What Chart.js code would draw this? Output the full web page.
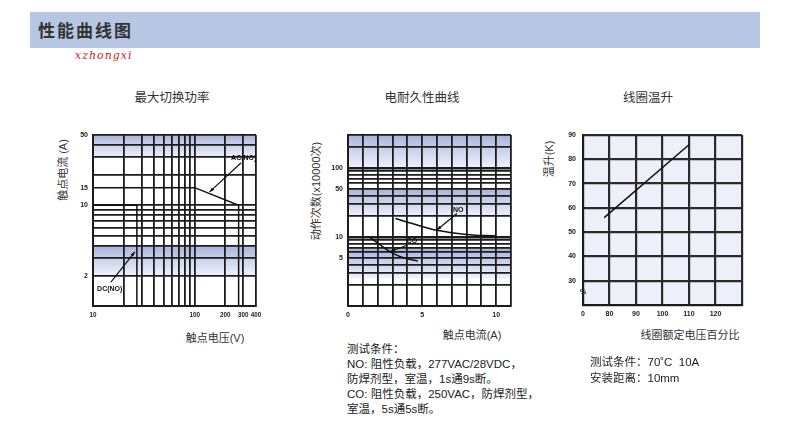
<!DOCTYPE html>
<html>
<head>
<meta charset="utf-8">
<script src="https://cdn.jsdelivr.net/npm/chart.js@4.4.1/dist/chart.umd.min.js"></script>
<style>
  body { margin: 0; width: 800px; height: 431px; background: #fff; position: relative; overflow: hidden;
         font-family: "Liberation Sans", "Noto Sans CJK SC", sans-serif; color: #333; }
  .abs { position: absolute; white-space: nowrap; line-height: 1; }
  .mid { transform: translate(-50%, -50%); }
  .rot { transform: translate(-50%, -50%) rotate(-90deg); }
  #bar { position: absolute; left: 30px; top: 12px; width: 730px; height: 36px; background: #b7c6e2; }
  #bar span { position: absolute; left: 8px; top: 9px; font-size: 17px; font-weight: bold; letter-spacing: 2px;
              line-height: 1; color: #333; font-family: "Noto Sans CJK SC", sans-serif; }
  .title { font-size: 12.5px; color: #333; }
  .axis { font-size: 11px; color: #333; }
  .notes { font-size: 11.5px; line-height: 15px; color: #222; }
  canvas { position: absolute; }
</style>
</head>
<body>
<div id="bar"><span>性能曲线图</span></div>
<div class="abs" style="left:75px; top:49px; color:#d21a1a; font: italic 11px 'DejaVu Serif'; letter-spacing:1px;">xzhongxi</div>

<div class="abs mid title" style="left:172px; top:98px;">最大切换功率</div>
<div class="abs mid title" style="left:422px; top:98px;">电耐久性曲线</div>
<div class="abs mid title" style="left:648px; top:98px;">线圈温升</div>

<div class="abs rot axis" style="left:63px; top:170px;">触点电流 (A)</div>
<div class="abs rot axis" style="left:316px; top:191px;">动作次数(x10000次)</div>
<div class="abs rot axis" style="left:549px; top:159px;">温升(K)</div>

<div class="abs mid axis" style="left:215px; top:338px;">触点电压(V)</div>
<div class="abs mid axis" style="left:472px; top:335px;">触点电流(A)</div>
<div class="abs mid axis" style="left:690px; top:335px;">线圈额定电压百分比</div>

<canvas id="power" width="228" height="210" style="left:43px; top:120px;"></canvas>
<canvas id="life" width="228" height="210" style="left:298px; top:120px;"></canvas>
<canvas id="temp" width="224" height="210" style="left:533px; top:120px;"></canvas>

<div class="abs" style="left:580px; top:288px; font: bold 7px 'Liberation Sans'; color:#222;">%</div>

<div class="abs notes" style="left:347px; top:342px;">测试条件：<br>NO: 阻性负载，277VAC/28VDC，<br>防焊剂型，室温，1s通9s断。<br>CO: 阻性负载，250VAC，防焊剂型，<br>室温，5s通5s断。</div>
<div class="abs notes" style="left:590px; top:355px; line-height:15.5px;">测试条件：70˚C&nbsp;&nbsp;10A<br>安装距离：10mm</div>

<script>
// 最大切换功率
const acVoltage = [10, 100, 270, 270];
const acCurrent = [15, 15, 10, 1];
const dcVoltage = [10, 27, 27];
const dcCurrent = [10, 10, 1];
const powerXGrid = [10, 20, 30, 40, 50, 60, 70, 80, 90, 100, 200, 300, 400];
const powerXLabels = [10, 100, 200, 300, 400];
const powerYGrid = [1, 2, 3, 4, 5, 6, 7, 8, 9, 10, 15, 20, 30, 40, 50];
const powerYLabels = [2, 10, 15, 50];
const powerBands = [[30, 50], [2, 4]];

// 电耐久性曲线
const noCurrent = [3.2, 4.5, 6, 8, 10];
const noCycles = [18.5, 15.3, 12.5, 10.9, 10.3];
const coCurrent = [1.5, 2.2, 2.85, 3.75, 4.7];
const coCycles = [9.8, 7.6, 6.1, 5.0, 4.5];
const lifeXGrid = [0, 1, 2, 3, 4, 5, 6, 7, 8, 9, 10, 11];
const lifeXLabels = [0, 5, 10];
const lifeYGrid = [1, 2, 3, 4, 5, 6, 7, 8, 9, 10, 20, 30, 40, 50, 60, 70, 80, 90, 100, 200, 300];
const lifeYLabels = [5, 10, 50, 100];
const lifeBands = [[100, 300], [20, 50], [2.5, 7]];

// 线圈温升
const coilPct = [78, 110];
const coilRise = [56, 86];
const tempXGrid = [70, 80, 90, 100, 110, 120, 130];
const tempXText = ["0", "80", "90", "100", "110", "120", ""];
const tempYGrid = [20, 30, 40, 50, 60, 70, 80, 90];
const tempYLabels = [30, 40, 50, 60, 70, 80, 90];

const tickFont = { family: "'Liberation Sans Narrow', 'Liberation Sans'", size: 7, weight: "bold" };
const gridColor = "#1c1c1c";

function pts(xs, ys) {
    return xs.map((v, i) => ({ x: v, y: ys[i] }));
}

// bands, plot fill, and the little labelled leaders
const decor = {
    id: "decor",
    beforeDraw(chart, args, opts) {
        const ctx = chart.ctx;
        const a = chart.chartArea;
        const y = chart.scales.y;
        ctx.save();
        if (opts.fill) {
            ctx.fillStyle = opts.fill;
            ctx.fillRect(a.left, a.top, a.width, a.height);
        }
        (opts.bands || []).forEach(b => {
            const top = y.getPixelForValue(b[1]);
            const bot = y.getPixelForValue(b[0]);
            const g = ctx.createLinearGradient(0, top, 0, bot);
            g.addColorStop(0, "#a7b3db");
            g.addColorStop(0.4, "#c6cee9");
            g.addColorStop(1, "#eff2fa");
            ctx.fillStyle = g;
            ctx.fillRect(a.left, top, a.width, bot - top);
        });
        ctx.restore();
    },
    afterDatasetsDraw(chart, args, opts) {
        const ctx = chart.ctx;
        const x = chart.scales.x, y = chart.scales.y;
        ctx.save();
        ctx.strokeStyle = "#111";
        ctx.fillStyle = "#111";
        ctx.lineWidth = 1.2;
        ctx.font = 'bold 7px "Liberation Sans"';
        ctx.textAlign = "center";
        ctx.textBaseline = "middle";
        (opts.notes || []).forEach(n => {
            const x1 = x.getPixelForValue(n.from[0]), y1 = y.getPixelForValue(n.from[1]);
            const x2 = x.getPixelForValue(n.to[0]), y2 = y.getPixelForValue(n.to[1]);
            ctx.beginPath();
            ctx.moveTo(x1, y1);
            ctx.lineTo(x2, y2);
            ctx.stroke();
            // arrow head at the curve end
            const ang = Math.atan2(y2 - y1, x2 - x1);
            ctx.beginPath();
            ctx.moveTo(x2, y2);
            ctx.lineTo(x2 - 5 * Math.cos(ang - 0.35), y2 - 5 * Math.sin(ang - 0.35));
            ctx.lineTo(x2 - 5 * Math.cos(ang + 0.35), y2 - 5 * Math.sin(ang + 0.35));
            ctx.closePath();
            ctx.fill();
            ctx.fillText(n.text, x.getPixelForValue(n.at[0]), y.getPixelForValue(n.at[1]));
        });
        ctx.restore();
    }
};

function axis(type, min, max, grid, label, opts) {
    return Object.assign({
        type: type,
        min: min,
        max: max,
        afterBuildTicks: s => { s.ticks = grid.map(v => ({ value: v })); },
        ticks: {
            autoSkip: false, maxRotation: 0, minRotation: 0,
            font: tickFont, color: "#222", padding: 5,
            callback: label
        },
        grid: { drawTicks: false, color: gridColor, lineWidth: 1.8 },
        border: { display: true, color: gridColor, width: 2 }
    }, opts);
}

function baseOptions(xScale, yScale, pluginOpts) {
    return {
        responsive: false,
        animation: false,
        events: [],
        devicePixelRatio: 1,
        layout: { padding: { top: 15, right: 15, left: 0, bottom: 0 } },
        plugins: { legend: { display: false }, tooltip: { enabled: false }, decor: pluginOpts },
        scales: { x: xScale, y: yScale }
    };
}

const lineStyle = { borderColor: "#111", borderWidth: 1.5, pointRadius: 0, fill: false };

// chart 1
new Chart(document.getElementById("power"), {
    type: "line",
    data: {
        datasets: [
            Object.assign({ label: "AC(NO)", data: pts(acVoltage, acCurrent) }, lineStyle),
            Object.assign({ label: "DC(NO)", data: pts(dcVoltage, dcCurrent) }, lineStyle)
        ]
    },
    options: baseOptions(
        Object.assign(axis("logarithmic", 10, 400, powerXGrid,
            v => powerXLabels.includes(v) ? String(v) : "",
            { afterFit: s => { s.height = 24; } }),
            { ticks: { autoSkip: false, maxRotation: 0, minRotation: 0, color: "#222", padding: 5,
                       font: { family: "'Liberation Sans Narrow', 'Liberation Sans'", size: 6.3, weight: "bold" },
                       callback: v => powerXLabels.includes(v) ? String(v) : "" } }),
        Object.assign(axis("logarithmic", 1, 50, powerYGrid,
            v => powerYLabels.includes(v) ? String(v) : "",
            { afterFit: s => { s.width = 50; } }),
            { grid: { drawTicks: false, lineWidth: 1.8, color: c => c.tick && c.tick.value === 15 ? "rgba(0,0,0,0)" : gridColor } }),
        {
            bands: powerBands,
            notes: [
                { text: "AC(NO)", at: [303, 29.8], from: [286, 26.5], to: [140, 13.6] },
                { text: "DC(NO)", at: [14.6, 1.49], from: [15, 1.73], to: [25.8, 3.45] }
            ]
        }
    ),
    plugins: [decor]
});

// chart 2
new Chart(document.getElementById("life"), {
    type: "line",
    data: {
        datasets: [
            Object.assign({ label: "NO", data: pts(noCurrent, noCycles), cubicInterpolationMode: "monotone" }, lineStyle),
            Object.assign({ label: "CO", data: pts(coCurrent, coCycles), cubicInterpolationMode: "monotone" }, lineStyle)
        ]
    },
    options: baseOptions(
        axis("linear", 0, 11, lifeXGrid,
            v => lifeXLabels.includes(v) ? String(v) : "",
            { afterFit: s => { s.height = 24; } }),
        Object.assign(axis("logarithmic", 1, 300, lifeYGrid,
            v => lifeYLabels.includes(v) ? String(v) : "",
            { afterFit: s => { s.width = 50; } }),
            { grid: { drawTicks: false, color: gridColor, lineWidth: c => c.tick && (c.tick.value === 10 || c.tick.value === 100) ? 2.4 : 1.8 } }),
        {
            bands: lifeBands,
            notes: [
                { text: "NO", at: [7.44, 24.5], from: [7.35, 21.9], to: [6.0, 12.6] },
                { text: "CO", at: [4.32, 8.7], from: [3.98, 7.6], to: [2.85, 6.15] }
            ]
        }
    ),
    plugins: [decor]
});

// chart 3
new Chart(document.getElementById("temp"), {
    type: "line",
    data: {
        datasets: [
            Object.assign({ label: "温升", data: pts(coilPct, coilRise) }, lineStyle)
        ]
    },
    options: baseOptions(
        Object.assign(axis("linear", 70, 130, tempXGrid,
            v => tempXText[tempXGrid.indexOf(v)] || "",
            { afterFit: s => { s.height = 25; } }),
            { grid: { drawTicks: false, color: "#2a2a2a", lineWidth: 2.2 } }),
        Object.assign(axis("linear", 20, 90, tempYGrid,
            v => tempYLabels.includes(v) ? String(v) : "",
            { afterFit: s => { s.width = 50; } }),
            { grid: { drawTicks: false, color: "#2a2a2a", lineWidth: 2.2 },
              ticks: { autoSkip: false, font: tickFont, color: "#222", padding: 7, callback: v => tempYLabels.includes(v) ? String(v) : "" } }),
        { fill: "#edf0f8" }
    ),
    plugins: [decor]
});
</script>
</body>
</html>
